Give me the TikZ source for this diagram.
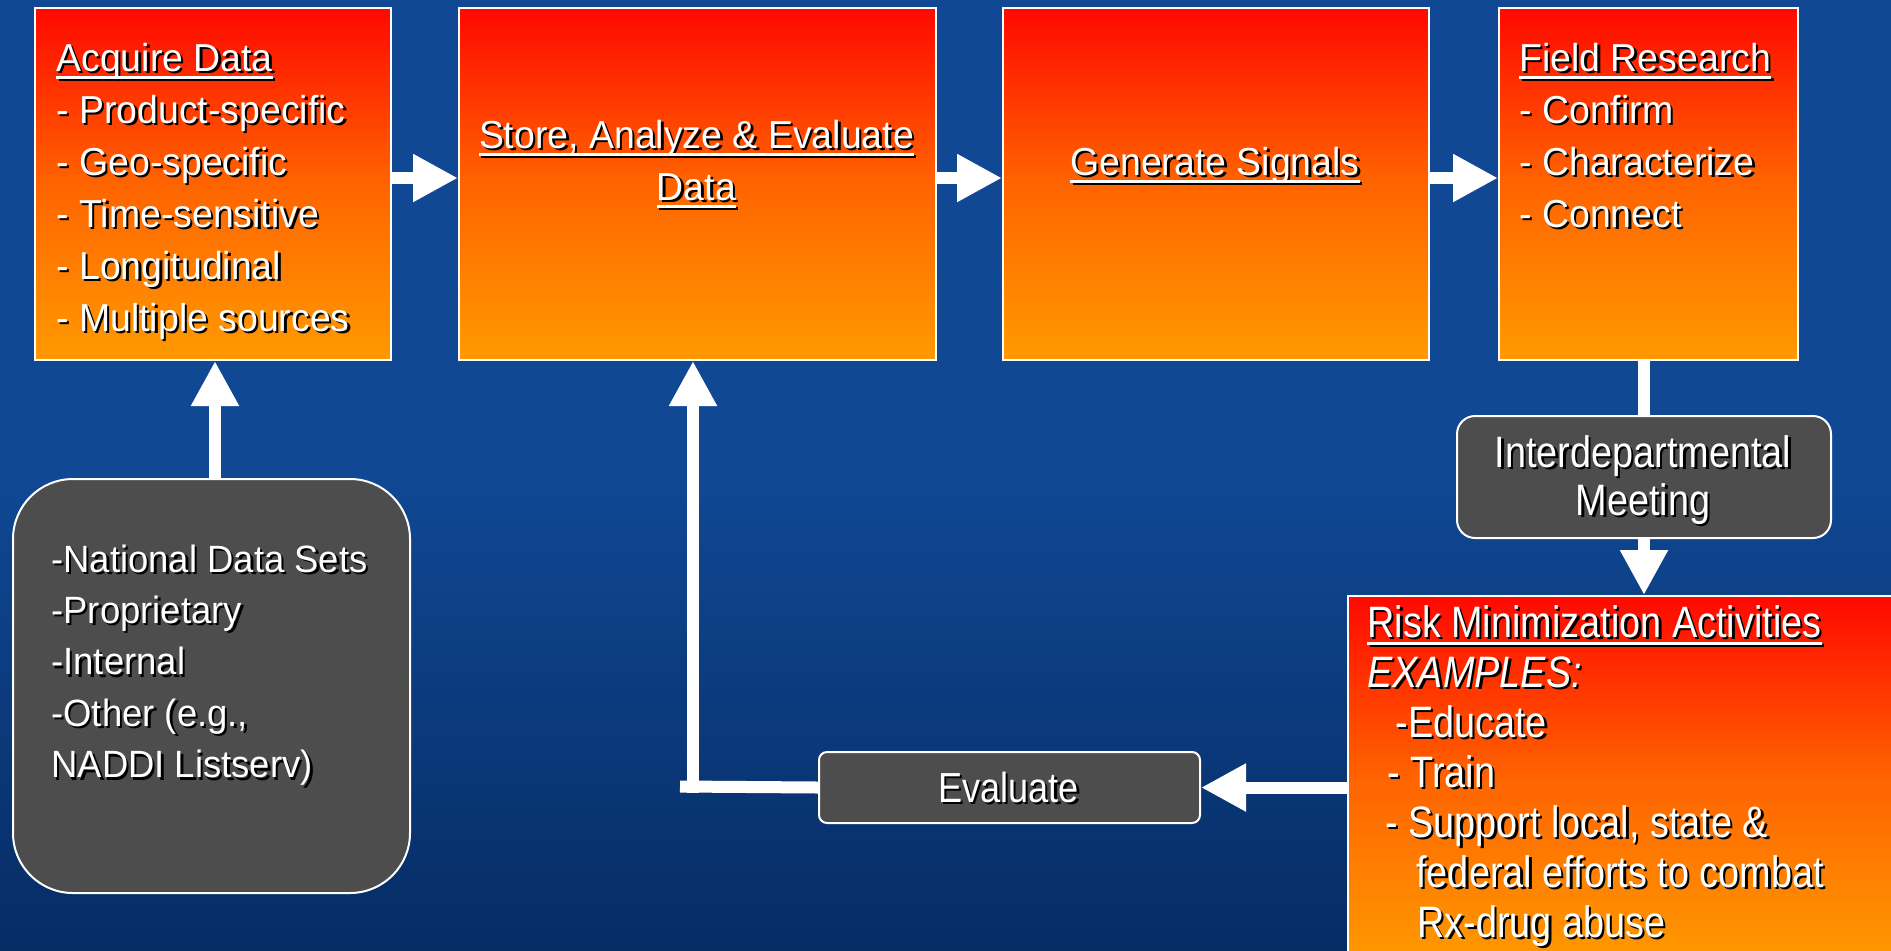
\documentclass[tikz,border=0pt]{standalone}
\usepackage{fontspec}
\setmainfont{Liberation Sans}
\newfontfamily\boxfont[FakeStretch=0.96]{Liberation Sans}
\newfontfamily\narrowfont[FakeStretch=0.86]{Liberation Sans}
\usetikzlibrary{arrows.meta}
\definecolor{SlideBlue}{RGB}{16,72,148}
\definecolor{SlideDeep}{RGB}{6,44,100}
\definecolor{BoxRed}{HTML}{FF0800}
\definecolor{BoxMid}{HTML}{FF6400}
\definecolor{BoxOrange}{HTML}{FF9A00}
\definecolor{BoxGray}{HTML}{4D4D4D}

% white text with a black drop shadow, and a thick underline
\newcommand\shd[1]{\leavevmode\rlap{\kern1.2pt\raisebox{-1.2pt}{\color{black}#1}}#1}
\newcommand\ulin[1]{\setbox0\hbox{#1}\rlap{\rule[-4pt]{\wd0}{1.5pt}}\box0}

\begin{document}
\begin{tikzpicture}[x=0.5pt, y=-0.5pt,
    flowbox/.style={draw=white, line width=1pt, top color=BoxRed, bottom color=BoxOrange, middle color=BoxMid, anchor=north west, inner sep=0pt},
    greybox/.style={draw=white, line width=1pt, fill=BoxGray, anchor=north west, inner sep=0pt},
    boxtext/.style={text=white, inner sep=0pt, font=\boxfont\fontsize{19.5}{26}\selectfont},
    greytext/.style={text=white, inner sep=0pt, font=\narrowfont\fontsize{22}{25}\selectfont},
    bigarrow/.style={draw=white, line width=6pt, -{Triangle[length=22.5pt, width=22.5pt]}},
    bigline/.style={draw=white, line width=6pt}]

    % background
    \clip (0,0) rectangle (1891,950);
    \shade[top color=SlideBlue, bottom color=SlideDeep, middle color=SlideBlue] (0,0) rectangle (1891,950);

    % top row
    \node[flowbox, minimum width=178pt, minimum height=176pt] (acq) at (34,7) {};
    \node[flowbox, minimum width=238.5pt, minimum height=176pt] (store) at (458,7) {};
    \node[flowbox, minimum width=213pt, minimum height=176pt] (signals) at (1002,7) {};
    \node[flowbox, minimum width=149.5pt, minimum height=176pt] (field) at (1498,7) {};

    % lower row
    \node[greybox, rounded corners=30pt, minimum width=198.5pt, minimum height=207pt] (sources) at (12,478) {};
    \node[greybox, rounded corners=9pt, minimum width=187pt, minimum height=61pt] (meeting) at (1456,415) {};
    \node[greybox, rounded corners=4pt, minimum width=190.5pt, minimum height=35.5pt] (evaluate) at (818,751) {};
    \node[flowbox, minimum width=277pt, minimum height=183pt] (risk) at (1347,595) {};

    % texts
    \node[boxtext, anchor=base west] (acqtext) at (56,71) {\parbox[t]{172pt}{\raggedright
        \shd{\ulin{Acquire Data}}\\
        \shd{- Product-specific}\\
        \shd{- Geo-specific}\\
        \shd{- Time-sensitive}\\
        \shd{- Longitudinal}\\
        \shd{- Multiple sources}}};
    \node[boxtext, anchor=base] (storetext) at (696.5,148) {\parbox[t]{236pt}{\centering
        \shd{\ulin{Store, Analyze \& Evaluate}}\\
        \shd{\ulin{Data}}}};
    \node[boxtext, anchor=base] (sigtext) at (1215,175) {\shd{\ulin{Generate Signals}}};
    \node[boxtext, anchor=base west] (fieldtext) at (1519,71) {\parbox[t]{140pt}{\raggedright
        \shd{\ulin{Field Research}}\\
        \shd{- Confirm}\\
        \shd{- Characterize}\\
        \shd{- Connect}}};
    \node[boxtext, font=\boxfont\fontsize{19}{25.7}\selectfont, anchor=base west] (srctext) at (51,572) {\parbox[t]{190pt}{\raggedright
        \shd{-National Data Sets}\\
        \shd{-Proprietary}\\
        \shd{-Internal}\\
        \shd{-Other (e.g.,}\\
        \shd{NADDI Listserv)}}};
    \node[greytext, font=\narrowfont\fontsize{22}{24}\selectfont, anchor=base] (meetlabel) at (1643,467) {\parbox[t]{180pt}{\centering
        \shd{Interdepartmental}\\
        \shd{Meeting}}};
    \node[greytext, font=\narrowfont\fontsize{21}{24}\selectfont, anchor=base] (evallabel) at (1008.5,802) {\shd{Evaluate}};
    \node[greytext, anchor=base west] (risktext) at (1367,637) {\parbox[t]{270pt}{\raggedright
        \shd{\ulin{Risk Minimization Activities}}\\
        \shd{\textit{EXAMPLES:}}\\
        \hspace*{14pt}\shd{-Educate}\\
        \hspace*{10pt}\shd{- Train}\\
        \hspace*{9pt}\shd{- Support local, state \&}\\
        \hspace*{24.5pt}\shd{federal efforts to combat}\\
        \hspace*{25pt}\shd{Rx-drug abuse}}};

    % connectors
    \coordinate (row) at (0,178);
    \coordinate (upcol) at (215,0);
    \coordinate (midcol) at (1644,0);
    \coordinate (stub) at (680,786.5);
    \coordinate (turn) at (693,792.5);

    \draw[bigarrow] (acq.east |- row) -- (store.west |- row);
    \draw[bigarrow] (store.east |- row) -- (signals.west |- row);
    \draw[bigarrow] (signals.east |- row) -- (field.west |- row);
    \draw[bigarrow] (sources.north -| upcol) -- (acq.south -| upcol);
    \draw[bigline] (field.south -| midcol) -- (meeting.north -| midcol);
    \draw[bigarrow] (meeting.south -| midcol) -- (risk.north -| midcol);
    \draw[bigarrow] (evaluate.east -| risk.west) -- (evaluate.east);
    \draw[bigline] (evaluate.west) -- (stub);
    \draw[bigarrow] (turn) -- (turn |- store.south);
\end{tikzpicture}
\end{document}
